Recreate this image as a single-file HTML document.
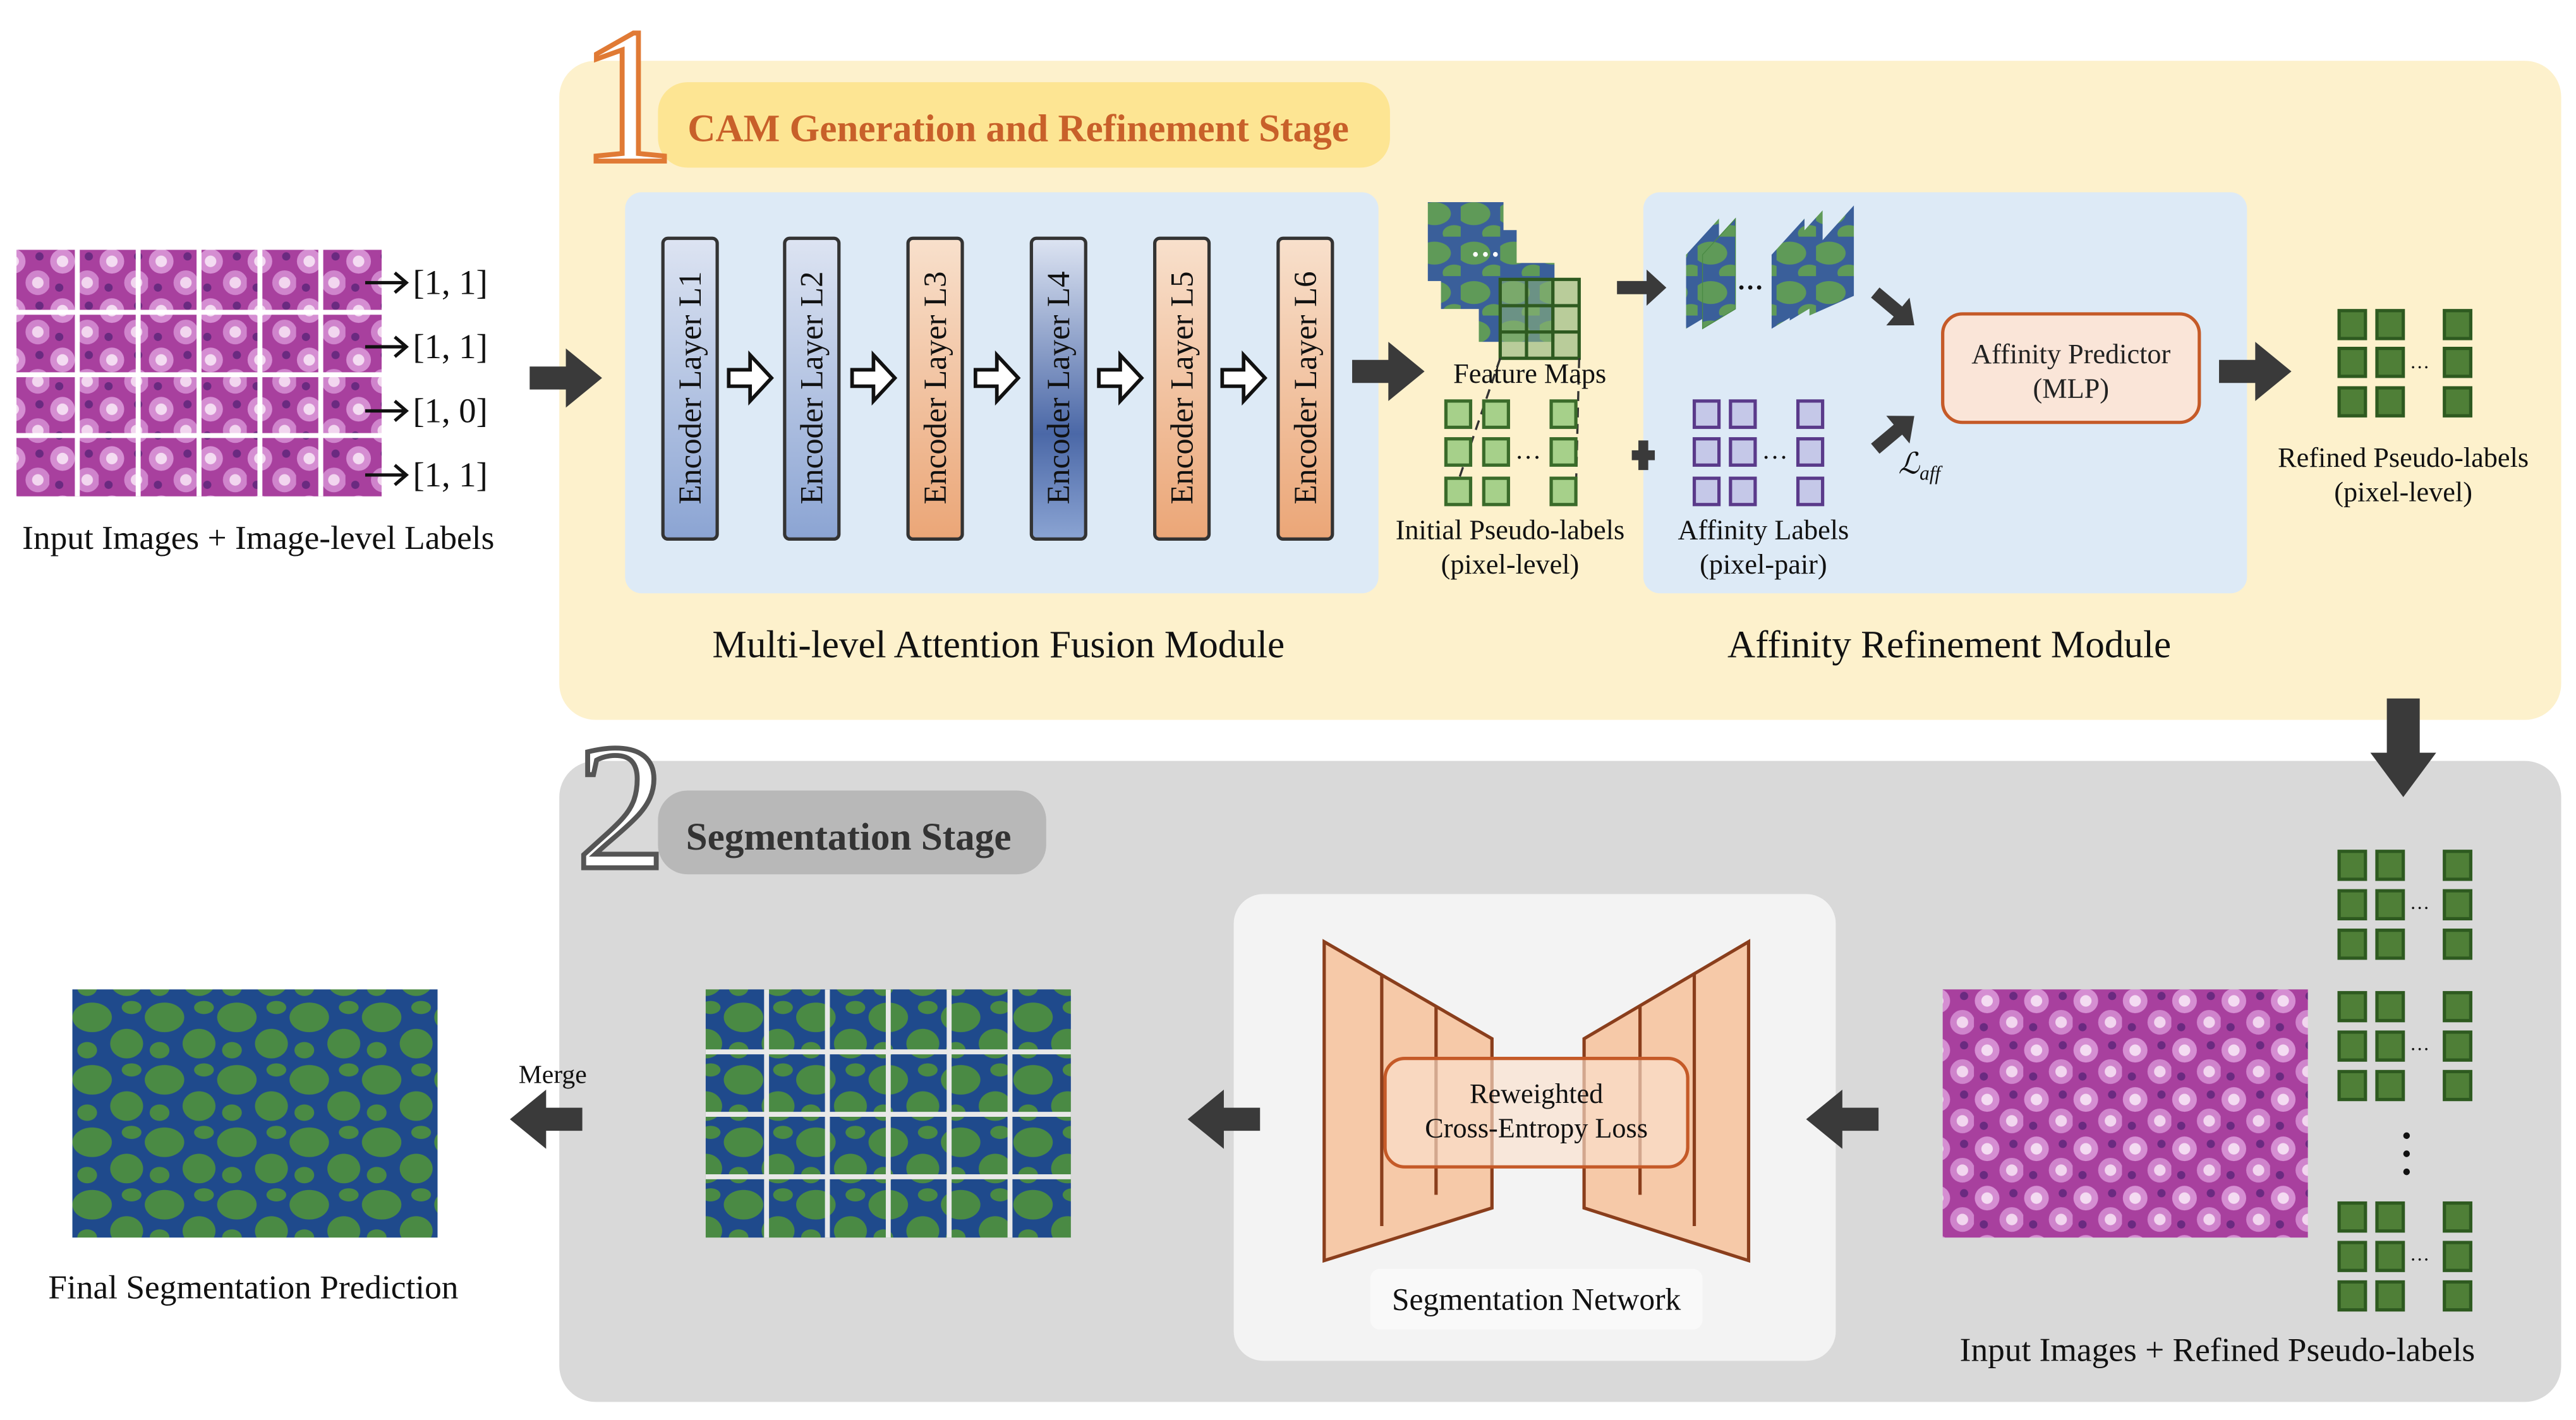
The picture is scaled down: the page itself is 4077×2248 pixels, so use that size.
<!DOCTYPE html>
<html><head><meta charset="utf-8"><style>html,body{margin:0;padding:0;background:#fff}svg{display:block}</style></head><body>
<svg width="4077" height="2248" viewBox="0 0 1566 864" preserveAspectRatio="none" xmlns="http://www.w3.org/2000/svg" font-family="'Liberation Serif', serif">
<defs>
<linearGradient id="gb" x1="0" y1="0" x2="0" y2="1"><stop offset="0" stop-color="#dde4f2"/><stop offset="1" stop-color="#8ba4d3"/></linearGradient>
<linearGradient id="gb4" x1="0" y1="0" x2="0" y2="1"><stop offset="0" stop-color="#dde4f2"/><stop offset="0.65" stop-color="#4b68a7"/><stop offset="1" stop-color="#8ba4d3"/></linearGradient>
<linearGradient id="go" x1="0" y1="0" x2="0" y2="1"><stop offset="0" stop-color="#f8e0cc"/><stop offset="1" stop-color="#eba677"/></linearGradient>
<pattern id="tis" width="30" height="30" patternUnits="userSpaceOnUse">
<rect width="30" height="30" fill="#a8409e"/>
<circle cx="8" cy="9" r="7.5" fill="#d58ed2"/><circle cx="8" cy="9" r="3.5" fill="#f4dcf2"/>
<circle cx="23" cy="22" r="7.5" fill="#cf84cc"/><circle cx="23" cy="22" r="3.5" fill="#f2d6ef"/>
<circle cx="24" cy="6" r="2.5" fill="#6a2a80"/><circle cx="6" cy="25" r="2.5" fill="#6a2a80"/>
</pattern>
<pattern id="seg" width="44" height="38" patternUnits="userSpaceOnUse">
<rect width="44" height="38" fill="#1f4a8c"/>
<ellipse cx="12" cy="11" rx="12" ry="9" fill="#4a8a44"/>
<ellipse cx="33" cy="27" rx="10" ry="9" fill="#4a8a44"/>
<ellipse cx="36" cy="5" rx="6" ry="4" fill="#4a8a44"/>
<ellipse cx="9" cy="31" rx="6" ry="5" fill="#4a8a44"/>
</pattern>
<pattern id="fm" width="24" height="24" patternUnits="userSpaceOnUse">
<rect width="24" height="24" fill="#3a5f9a"/>
<ellipse cx="8" cy="10" rx="10" ry="7" fill="#5f9a58"/><ellipse cx="20" cy="22" rx="7" ry="5" fill="#5f9a58"/>
</pattern>
</defs>

<rect x="340" y="37" width="1217" height="401" rx="22" fill="#fdf1cc"/>
<rect x="400" y="50" width="445" height="52" rx="18" fill="#fde593"/>
<text x="418" y="86" font-size="23.5" font-weight="bold" fill="#c8602a">CAM Generation and Refinement Stage</text>
<text x="352" y="98" font-size="118" fill="#fff" stroke="#e07a35" stroke-width="3">1</text>

<rect x="380" y="117" width="458" height="244" rx="10" fill="#ddeaf6"/>
<g stroke="#333" stroke-width="2">
<rect x="403" y="145" width="33" height="183" rx="3" fill="url(#gb)"/>
<rect x="477" y="145" width="33" height="183" rx="3" fill="url(#gb)"/>
<rect x="552" y="145" width="33" height="183" rx="3" fill="url(#go)"/>
<rect x="627" y="145" width="33" height="183" rx="3" fill="url(#gb4)"/>
<rect x="702" y="145" width="33" height="183" rx="3" fill="url(#go)"/>
<rect x="777" y="145" width="33" height="183" rx="3" fill="url(#go)"/>
</g>
<g font-size="19.5" fill="#111" text-anchor="middle">
<text transform="translate(426,236) rotate(-90)">Encoder Layer L1</text>
<text transform="translate(500,236) rotate(-90)">Encoder Layer L2</text>
<text transform="translate(575,236) rotate(-90)">Encoder Layer L3</text>
<text transform="translate(650,236) rotate(-90)">Encoder Layer L4</text>
<text transform="translate(725,236) rotate(-90)">Encoder Layer L5</text>
<text transform="translate(800,236) rotate(-90)">Encoder Layer L6</text>
</g>
<g fill="#fff" stroke="#111" stroke-width="2.2">
<path d="M443,225 h13 v-9 l13,14 l-13,14 v-9 h-13z"/>
<path d="M518,225 h13 v-9 l13,14 l-13,14 v-9 h-13z"/>
<path d="M593,225 h13 v-9 l13,14 l-13,14 v-9 h-13z"/>
<path d="M668,225 h13 v-9 l13,14 l-13,14 v-9 h-13z"/>
<path d="M743,225 h13 v-9 l13,14 l-13,14 v-9 h-13z"/>
</g>
<text x="607" y="400" font-size="23.5" text-anchor="middle" fill="#111">Multi-level Attention Fusion Module</text>

<rect x="10" y="152" width="222" height="150" fill="url(#tis)"/>
<g stroke="#fff" stroke-width="3">
<line x1="47" y1="152" x2="47" y2="302"/><line x1="84" y1="152" x2="84" y2="302"/><line x1="121" y1="152" x2="121" y2="302"/><line x1="158" y1="152" x2="158" y2="302"/><line x1="195" y1="152" x2="195" y2="302"/>
<line x1="10" y1="190" x2="232" y2="190"/><line x1="10" y1="228" x2="232" y2="228"/><line x1="10" y1="265" x2="232" y2="265"/>
</g>
<g stroke="#111" stroke-width="2" fill="none">
<path d="M222,172 h24 M240,166 l7,6 l-7,6"/><path d="M222,211 h24 M240,205 l7,6 l-7,6"/>
<path d="M222,250 h24 M240,244 l7,6 l-7,6"/><path d="M222,289 h24 M240,283 l7,6 l-7,6"/>
</g>
<g font-size="21" fill="#111"><text x="251" y="179">[1, 1]</text><text x="251" y="218">[1, 1]</text><text x="251" y="257">[1, 0]</text><text x="251" y="296">[1, 1]</text></g>
<text x="157" y="334" font-size="20.5" text-anchor="middle" fill="#111">Input Images + Image-level Labels</text>

<rect x="868" y="123" width="46" height="48" fill="url(#fm)"/>
<rect x="876" y="140" width="46" height="48" fill="url(#fm)"/>
<rect x="899" y="160" width="46" height="48" fill="url(#fm)"/>
<text x="894" y="156" font-size="18" font-weight="bold" fill="#fff">…</text>
<rect x="912" y="170" width="48" height="48" fill="rgba(140,180,120,0.6)" stroke="#2e5a20" stroke-width="2"/>
<g stroke="#2e5a20" stroke-width="2"><line x1="928" y1="170" x2="928" y2="218"/><line x1="944" y1="170" x2="944" y2="218"/><line x1="912" y1="186" x2="960" y2="186"/><line x1="912" y1="202" x2="960" y2="202"/></g>
<g stroke="#333" stroke-width="1.3" stroke-dasharray="6,4" fill="none"><line x1="912" y1="218" x2="884" y2="300"/><line x1="960" y1="218" x2="958" y2="300"/></g>
<text x="930" y="233" font-size="17" text-anchor="middle" fill="#111">Feature Maps</text>
<g fill="#a6d08a" stroke="#3a6b2a" stroke-width="2">
<rect x="879" y="244" width="15" height="16"/><rect x="902" y="244" width="15" height="16"/><rect x="943" y="244" width="15" height="16"/>
<rect x="879" y="267" width="15" height="16"/><rect x="902" y="267" width="15" height="16"/><rect x="943" y="267" width="15" height="16"/>
<rect x="879" y="291" width="15" height="16"/><rect x="902" y="291" width="15" height="16"/><rect x="943" y="291" width="15" height="16"/>
</g>
<text x="921" y="279" font-size="16" fill="#111">…</text>
<text x="918" y="328" font-size="17" text-anchor="middle" fill="#111">Initial Pseudo-labels</text>
<text x="918" y="349" font-size="17" text-anchor="middle" fill="#111">(pixel-level)</text>

<rect x="999" y="117" width="367" height="244" rx="10" fill="#ddeaf6"/>
<path d="M1025,155 l20,-22 v55 l-20,12z" fill="url(#fm)"/>
<path d="M1035,155 l20,-22 v55 l-20,12z" fill="url(#fm)" stroke="#4a8a44" stroke-width="0.5"/>
<path d="M1077,155 l20,-22 v55 l-20,12z" fill="url(#fm)"/>
<path d="M1088,150 l20,-22 v55 l-20,12z" fill="url(#fm)"/>
<path d="M1100,155 l27,-30 v55 l-27,12z" fill="url(#fm)"/>
<text x="1056" y="176" font-size="16" font-weight="bold" fill="#111">…</text>
<g fill="#c5c8e8" stroke="#5a3a8a" stroke-width="2">
<rect x="1030" y="244" width="15" height="16"/><rect x="1052" y="244" width="15" height="16"/><rect x="1093" y="244" width="15" height="16"/>
<rect x="1030" y="267" width="15" height="16"/><rect x="1052" y="267" width="15" height="16"/><rect x="1093" y="267" width="15" height="16"/>
<rect x="1030" y="291" width="15" height="16"/><rect x="1052" y="291" width="15" height="16"/><rect x="1093" y="291" width="15" height="16"/>
</g>
<text x="1071" y="279" font-size="16" fill="#111">…</text>
<text x="1072" y="328" font-size="17" text-anchor="middle" fill="#111">Affinity Labels</text>
<text x="1072" y="349" font-size="17" text-anchor="middle" fill="#111">(pixel-pair)</text>
<text x="1154" y="288" font-size="18" font-style="italic" fill="#111">ℒ<tspan font-size="12" dy="4">aff</tspan></text>
<rect x="1181" y="191" width="156" height="66" rx="12" fill="#fae5d8" stroke="#c55a28" stroke-width="2"/>
<text x="1259" y="221" font-size="17" text-anchor="middle" fill="#222">Affinity Predictor</text>
<text x="1259" y="242" font-size="17" text-anchor="middle" fill="#222">(MLP)</text>
<g fill="#4f7f37" stroke="#2e5a20" stroke-width="2">
<rect x="1422" y="189" width="16" height="17"/><rect x="1445" y="189" width="16" height="17"/><rect x="1486" y="189" width="16" height="17"/>
<rect x="1422" y="212" width="16" height="17"/><rect x="1445" y="212" width="16" height="17"/><rect x="1486" y="212" width="16" height="17"/>
<rect x="1422" y="236" width="16" height="17"/><rect x="1445" y="236" width="16" height="17"/><rect x="1486" y="236" width="16" height="17"/>
</g>
<text x="1465" y="224" font-size="12" fill="#111">…</text>
<text x="1461" y="284" font-size="17" text-anchor="middle" fill="#111">Refined Pseudo-labels</text>
<text x="1461" y="305" font-size="17" text-anchor="middle" fill="#111">(pixel-level)</text>
<text x="1185" y="400" font-size="23.5" text-anchor="middle" fill="#111">Affinity Refinement Module</text>

<rect x="340" y="463" width="1217" height="390" rx="22" fill="#d9d9d9"/>
<rect x="400" y="481" width="236" height="51" rx="18" fill="#b8b8b8"/>
<text x="417" y="517" font-size="23.5" font-weight="bold" fill="#333">Segmentation Stage</text>
<text x="350" y="528" font-size="110" fill="#fff" stroke="#555" stroke-width="3">2</text>

<g fill="#4f7f37" stroke="#2e5a20" stroke-width="2">
<rect x="1422" y="518" width="16" height="17"/><rect x="1445" y="518" width="16" height="17"/><rect x="1486" y="518" width="16" height="17"/>
<rect x="1422" y="542" width="16" height="17"/><rect x="1445" y="542" width="16" height="17"/><rect x="1486" y="542" width="16" height="17"/>
<rect x="1422" y="566" width="16" height="17"/><rect x="1445" y="566" width="16" height="17"/><rect x="1486" y="566" width="16" height="17"/>
<rect x="1422" y="604" width="16" height="17"/><rect x="1445" y="604" width="16" height="17"/><rect x="1486" y="604" width="16" height="17"/>
<rect x="1422" y="628" width="16" height="17"/><rect x="1445" y="628" width="16" height="17"/><rect x="1486" y="628" width="16" height="17"/>
<rect x="1422" y="652" width="16" height="17"/><rect x="1445" y="652" width="16" height="17"/><rect x="1486" y="652" width="16" height="17"/>
<rect x="1422" y="732" width="16" height="17"/><rect x="1445" y="732" width="16" height="17"/><rect x="1486" y="732" width="16" height="17"/>
<rect x="1422" y="756" width="16" height="17"/><rect x="1445" y="756" width="16" height="17"/><rect x="1486" y="756" width="16" height="17"/>
<rect x="1422" y="780" width="16" height="17"/><rect x="1445" y="780" width="16" height="17"/><rect x="1486" y="780" width="16" height="17"/>
</g>
<g font-size="12" fill="#111"><text x="1465" y="553">…</text><text x="1465" y="639">…</text><text x="1465" y="767">…</text></g>
<g fill="#111"><circle cx="1463" cy="691" r="2"/><circle cx="1463" cy="702" r="2"/><circle cx="1463" cy="713" r="2"/></g>
<rect x="1181" y="602" width="222" height="151" fill="url(#tis)"/>
<text x="1348" y="828" font-size="20.5" text-anchor="middle" fill="#111">Input Images + Refined Pseudo-labels</text>

<rect x="750" y="544" width="366" height="284" rx="18" fill="#f3f3f3"/>
<g fill="#f6c9a8" stroke="#8a3e1c" stroke-width="2">
<path d="M805,573 L907,632 L907,735 L805,767z"/>
<path d="M1063,573 L963,632 L963,735 L1063,767z"/>
<line x1="840" y1="593" x2="840" y2="746"/><line x1="873" y1="612" x2="873" y2="727"/>
<line x1="997" y1="612" x2="997" y2="727"/><line x1="1030" y1="593" x2="1030" y2="746"/>
</g>
<rect x="842" y="644" width="184" height="66" rx="12" fill="rgba(250,225,205,0.65)" stroke="#c55a28" stroke-width="2"/>
<text x="934" y="671" font-size="17" text-anchor="middle" fill="#111">Reweighted</text>
<text x="934" y="692" font-size="17" text-anchor="middle" fill="#111">Cross-Entropy Loss</text>
<rect x="833" y="772" width="202" height="37" rx="6" fill="#f9f9f9"/>
<text x="934" y="797" font-size="19" text-anchor="middle" fill="#111">Segmentation Network</text>

<rect x="429" y="602" width="222" height="151" fill="url(#seg)"/>
<g stroke="#e8e8e8" stroke-width="3">
<line x1="466" y1="602" x2="466" y2="753"/><line x1="503" y1="602" x2="503" y2="753"/><line x1="540" y1="602" x2="540" y2="753"/><line x1="577" y1="602" x2="577" y2="753"/><line x1="614" y1="602" x2="614" y2="753"/>
<line x1="429" y1="640" x2="651" y2="640"/><line x1="429" y1="678" x2="651" y2="678"/><line x1="429" y1="716" x2="651" y2="716"/>
</g>
<text x="336" y="659" font-size="16" text-anchor="middle" fill="#111">Merge</text>
<rect x="44" y="602" width="222" height="151" fill="url(#seg)"/>
<text x="154" y="790" font-size="20.5" text-anchor="middle" fill="#111">Final Segmentation Prediction</text>

<g fill="#3a3a3a">
<path d="M322,223 h22 v-11 l22,18 l-22,18 v-11 h-22z"/>
<path d="M822,219 h22 v-11 l22,18 l-22,18 v-11 h-22z"/>
<path d="M1349,219 h22 v-11 l22,18 l-22,18 v-11 h-22z"/>
<path d="M983,171 h18 v-7 l12,11 l-12,11 v-7 h-18z"/>
<path transform="translate(1140,178) rotate(40)" d="M0,-4 h18 v-7 l13,11 l-13,11 v-7 h-18z"/>
<path transform="translate(1140,273) rotate(-40)" d="M0,-4 h18 v-7 l13,11 l-13,11 v-7 h-18z"/>
<rect x="992" y="274" width="14" height="6"/><rect x="996" y="268" width="6" height="18"/>
<path d="M1451,425 h20 v33 h10 l-20,27 l-20,-27 h10z"/>
<path d="M1142,674 h-22 v-11 l-22,18 l22,18 v-11 h22z"/>
<path d="M766,674 h-22 v-11 l-22,18 l22,18 v-11 h22z"/>
<path d="M354,674 h-22 v-11 l-22,18 l22,18 v-11 h22z"/>
</g>
</svg>
</body></html>
